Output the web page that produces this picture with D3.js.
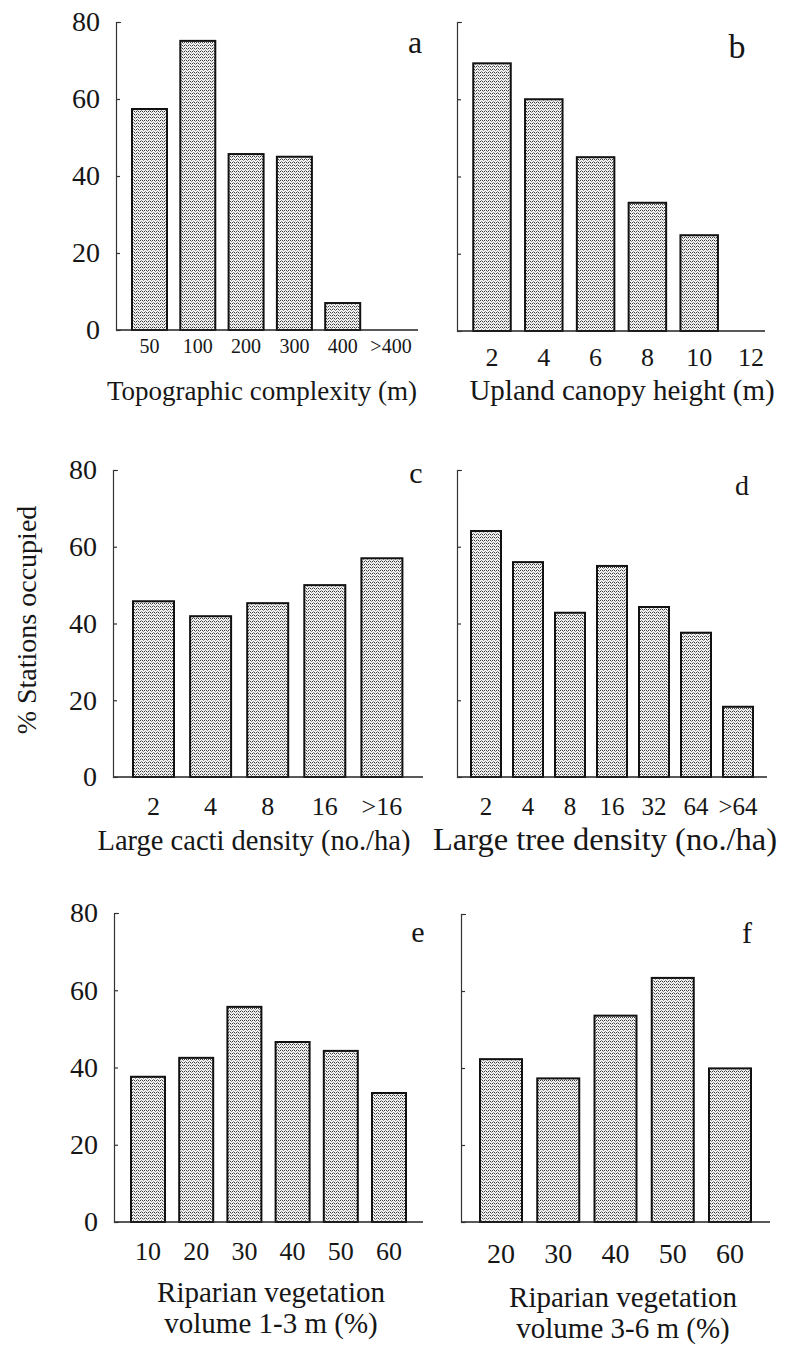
<!DOCTYPE html>
<html>
<head>
<meta charset="utf-8">
<script src="https://cdn.jsdelivr.net/npm/d3@7"></script>
<style>
  body { margin: 0; background: #fff; }
  svg text { font-family: "Liberation Serif", "Times New Roman", Times, serif; fill: #161616; }
</style>
</head>
<body>
<svg id="fig" width="787" height="1345" font-family="Liberation Serif, Times New Roman, serif"></svg>
<script>
// Percentage of survey stations occupied, by habitat class
const topoClasses = ["50", "100", "200", "300", "400", ">400"];
const topoOccupied = [57.4, 75.1, 45.7, 45, 7, 0];

const canopyClasses = ["2", "4", "6", "8", "10", "12"];
const canopyOccupied = [69.3, 60, 45, 33.2, 24.8, 0];

const cactiClasses = ["2", "4", "8", "16", ">16"];
const cactiOccupied = [45.8, 41.9, 45.3, 50, 57];

const treeClasses = ["2", "4", "8", "16", "32", "64", ">64"];
const treeOccupied = [64.1, 56, 42.8, 55, 44.3, 37.6, 18.3];

const ripLowClasses = ["10", "20", "30", "40", "50", "60"];
const ripLowOccupied = [37.6, 42.5, 55.7, 46.6, 44.3, 33.4];

const ripMidClasses = ["20", "30", "40", "50", "60"];
const ripMidOccupied = [42.3, 37.3, 53.6, 63.4, 39.9];

const yTicks = [0, 20, 40, 60, 80];
const panelLetters = ["a", "b", "c", "d", "e", "f"];
const axisTitles = [
  ["Topographic complexity (m)"],
  ["Upland canopy height (m)"],
  ["Large cacti density (no./ha)"],
  ["Large tree density (no./ha)"],
  ["Riparian vegetation", "volume 1-3 m (%)"],
  ["Riparian vegetation", "volume 3-6 m (%)"]
];
const yTitle = "% Stations occupied";

const series = [
  [topoClasses, topoOccupied],
  [canopyClasses, canopyOccupied],
  [cactiClasses, cactiOccupied],
  [treeClasses, treeOccupied],
  [ripLowClasses, ripLowOccupied],
  [ripMidClasses, ripMidOccupied]
];

// Placement of each small multiple on the page
const layout = [
  { ax: 116, y0: 330, yTop: 22, c1: 149.5, step: 48.3, bw: 35, xEnd: 418, tickFs: 20, tickBase: 353,
    letterX: 415, letterBase: 53, letterFs: 32, titleX: 262, titleBase: [400], titleFs: 27, yLabels: true },
  { ax: 457, y0: 331, yTop: 22, c1: 492, step: 51.8, bw: 37.5, xEnd: 765, tickFs: 26, tickBase: 366,
    letterX: 737, letterBase: 58, letterFs: 34, titleX: 622, titleBase: [400], titleFs: 29, yLabels: false },
  { ax: 113, y0: 777, yTop: 470, c1: 153.5, step: 57.1, bw: 41, xEnd: 423, tickFs: 26, tickBase: 815,
    letterX: 416, letterBase: 483, letterFs: 30, titleX: 254, titleBase: [850], titleFs: 28.5, yLabels: true },
  { ax: 457, y0: 777, yTop: 470, c1: 486, step: 42, bw: 30, xEnd: 767, tickFs: 25, tickBase: 815,
    letterX: 742, letterBase: 495, letterFs: 28, titleX: 605, titleBase: [850], titleFs: 32.5, yLabels: false },
  { ax: 114, y0: 1222, yTop: 913, c1: 148, step: 48.2, bw: 34, xEnd: 423, tickFs: 26, tickBase: 1260,
    letterX: 418, letterBase: 942, letterFs: 30, titleX: 271, titleBase: [1302, 1333], titleFs: 29, yLabels: true },
  { ax: 461, y0: 1222, yTop: 914, c1: 501, step: 57.25, bw: 42, xEnd: 770, tickFs: 28, tickBase: 1263,
    letterX: 747, letterBase: 943, letterFs: 30, titleX: 623, titleBase: [1307, 1338], titleFs: 29, yLabels: false }
];

const svg = d3.select("#fig");

// Stippled fill used for every bar
const pat = svg.append("defs").append("pattern")
  .attr("id", "stipple")
  .attr("patternUnits", "userSpaceOnUse")
  .attr("width", 4).attr("height", 3);
pat.append("rect").attr("width", 4).attr("height", 3).attr("fill", "#f2f2f2");
[[0, 0], [2, 0], [1, 2], [3, 1]].forEach(([px, py], i) => {
  pat.append("rect").attr("x", px).attr("y", py).attr("width", 1).attr("height", 1)
    .attr("fill", i < 2 ? "#3a3a3a" : "#8a8a8a");
});

series.forEach(([cats, vals], i) => {
  const L = layout[i];
  const n = cats.length;
  const pad = 1 - L.bw / L.step;
  const r0 = L.c1 - L.step / 2;

  const x = d3.scaleBand()
    .domain(cats)
    .range([r0, r0 + n * L.step])
    .paddingInner(pad)
    .paddingOuter(pad / 2);

  const y = d3.scaleLinear().domain([0, 80]).range([L.y0, L.yTop]);

  const g = svg.append("g");

  // bars
  g.selectAll("rect.bar")
    .data(cats.map((c, k) => ({ c, v: vals[k] })).filter(d => d.v > 0))
    .join("rect")
    .attr("class", "bar")
    .attr("x", d => x(d.c))
    .attr("y", d => y(d.v))
    .attr("width", x.bandwidth())
    .attr("height", d => y(0) - y(d.v))
    .attr("fill", "url(#stipple)")
    .attr("stroke", "#111")
    .attr("stroke-width", 2);

  // baseline
  g.append("line")
    .attr("x1", L.ax).attr("x2", L.xEnd)
    .attr("y1", y(0)).attr("y2", y(0))
    .attr("stroke", "#222").attr("stroke-width", 1.5);

  // vertical axis
  const yAxis = d3.axisLeft(y)
    .tickValues(yTicks)
    .tickSize(-4)
    .tickSizeOuter(-5)
    .tickPadding(16)
    .tickFormat(L.yLabels ? d3.format("d") : () => "");
  const ya = g.append("g").attr("transform", `translate(${L.ax},0)`).call(yAxis);
  ya.attr("font-family", null);
  ya.select(".domain").attr("stroke", "#333").attr("stroke-width", 1.2);
  ya.selectAll(".tick line").attr("stroke", "#333").attr("stroke-width", 1.2);
  ya.selectAll(".tick text")
    .attr("font-size", 28)
    .attr("fill", "#161616");

  // category labels
  const xAxis = d3.axisBottom(x).tickSize(0);
  const xa = g.append("g").call(xAxis);
  xa.attr("font-family", null);
  xa.select(".domain").remove();
  xa.selectAll(".tick text")
    .attr("y", L.tickBase)
    .attr("dy", null)
    .attr("font-size", L.tickFs)
    .attr("fill", "#161616");

  // panel letter
  g.append("text")
    .attr("x", L.letterX).attr("y", L.letterBase)
    .attr("text-anchor", "middle")
    .attr("font-size", L.letterFs)
    .text(panelLetters[i]);

  // axis title
  axisTitles[i].forEach((t, k) => {
    g.append("text")
      .attr("x", L.titleX).attr("y", L.titleBase[k])
      .attr("text-anchor", "middle")
      .attr("font-size", L.titleFs)
      .text(t);
  });
});

// shared vertical title
svg.append("text")
  .attr("transform", "translate(36,620) rotate(-90)")
  .attr("text-anchor", "middle")
  .attr("font-size", 28)
  .text(yTitle);
</script>
</body>
</html>
